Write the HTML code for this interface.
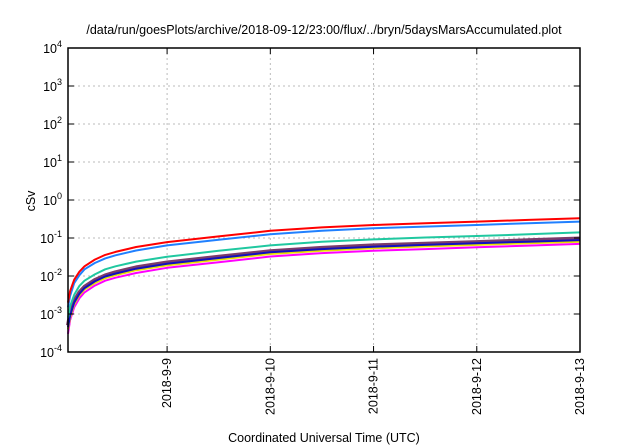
<!DOCTYPE html>
<html><head><meta charset="utf-8"><style>
html,body{margin:0;padding:0;background:#fff;}
svg{display:block;font-family:"Liberation Sans",sans-serif;}
</style></head><body>
<svg id="chart" width="640" height="448" viewBox="0 0 640 448">
<rect width="640" height="448" fill="#fff"/>
<text x="324" y="34" font-size="12.5" text-anchor="middle">/data/run/goesPlots/archive/2018-09-12/23:00/flux/../bryn/5daysMarsAccumulated.plot</text>
<g id="grid"></g>
<g id="series" fill="none"></g>
<g id="axes"></g>
<text x="324" y="442" font-size="12.5" text-anchor="middle">Coordinated Universal Time (UTC)</text>
<text transform="translate(35,201) rotate(-90)" font-size="12.5" text-anchor="middle">cSv</text>
</svg>
<script>
const times=[0.04,0.06,0.1,0.15,0.2,0.3,0.4,0.5,0.7,1,1.5,2,2.5,3,3.5,4,4.5,5];
const red=[0.002,0.004,0.008,0.013,0.018,0.027,0.036,0.043,0.058,0.078,0.11,0.155,0.19,0.22,0.245,0.27,0.3,0.33];
const blue=[0.0015,0.003,0.0065,0.0105,0.015,0.022,0.029,0.035,0.047,0.064,0.09,0.125,0.155,0.18,0.2,0.22,0.245,0.27];
const teal=[0.0008,0.0016,0.0032,0.0055,0.0075,0.011,0.015,0.018,0.024,0.032,0.046,0.064,0.08,0.092,0.103,0.113,0.125,0.14];
const brown=[0.0005,0.001,0.0022,0.0037,0.0052,0.0078,0.0104,0.0125,0.0168,0.0226,0.032,0.045,0.055,0.064,0.071,0.078,0.087,0.097];
const navy=[0.00045,0.0009,0.002,0.0034,0.0048,0.0072,0.0097,0.0116,0.0156,0.021,0.0297,0.042,0.051,0.059,0.066,0.073,0.08,0.088];
const yellow=[0.0004,0.0008,0.0018,0.0031,0.0044,0.0065,0.0088,0.0105,0.0142,0.019,0.027,0.038,0.046,0.054,0.06,0.066,0.073,0.08];
const magenta=[0.0003,0.0007,0.0015,0.0026,0.0037,0.0056,0.0075,0.009,0.012,0.0164,0.023,0.0325,0.04,0.046,0.051,0.057,0.063,0.07];
const xTickLabels=["2018-9-9","2018-9-10","2018-9-11","2018-9-12","2018-9-13"];
const xTickDays=[1,2,3,4,5];
const yTickExps=[-4,-3,-2,-1,0,1,2,3,4];

const L=68,R=580,T=48,B=352;
const X0=0.04,X1=5;
function xs(d){return L+(d-X0)/(X1-X0)*(R-L);}
function ys(v){return B-(Math.log10(v)+4)/8*(B-T);}
const NS="http://www.w3.org/2000/svg";
function mk(tag,attrs,parent){const e=document.createElementNS(NS,tag);for(const k in attrs)e.setAttribute(k,attrs[k]);parent.appendChild(e);return e;}
const grid=document.getElementById('grid'),axes=document.getElementById('axes'),ser=document.getElementById('series');

yTickExps.forEach(p=>{
  const y=ys(Math.pow(10,p));
  if(p>-4&&p<4){const g=mk('line',{x1:L,x2:R,y1:y,y2:y,stroke:'#bbb','stroke-dasharray':'2,3','stroke-width':1},grid);
  
  }
  mk('line',{x1:L,x2:L+6,y1:y,y2:y,stroke:'#000'},axes);
  mk('line',{x1:R,x2:R-6,y1:y,y2:y,stroke:'#000'},axes);
  const t=mk('text',{x:L-6,y:y+5,'text-anchor':'end','font-size':12.5},axes);
  
  
  t.textContent='10';
  const s=mk('tspan',{dy:-6,'font-size':9},t);s.textContent=String(p);
});
xTickDays.forEach((d,i)=>{
  const x=xs(d);
  if(d<5){const g=mk('line',{x1:x,x2:x,y1:T,y2:B,stroke:'#bbb','stroke-dasharray':'2,3','stroke-width':1},grid);
  
  }
  mk('line',{x1:x,x2:x,y1:B,y2:B-6,stroke:'#000'},axes);
  mk('line',{x1:x,x2:x,y1:T,y2:T+6,stroke:'#000'},axes);
  const t=mk('text',{transform:`translate(${x+4},${B+6}) rotate(-90)`,'text-anchor':'end','font-size':12.5},axes);
  
  
  t.textContent=xTickLabels[i];
});
const frame=mk('rect',{x:L,y:T,width:R-L,height:B-T,fill:'none',stroke:'#000','stroke-width':1.5},axes);



const seriesList=[[brown,'#7a3b6a','series-brown'],[magenta,'#ff00ff','series-magenta'],[yellow,'#e8e000','series-yellow'],[navy,'#1010c0','series-navy'],[teal,'#20c8a0','series-teal'],[blue,'#2080ff','series-blue'],[red,'#ff0000','series-red']];
seriesList.forEach(([vals,col,name])=>{
  const d=vals.map((v,i)=>(i?'L':'M')+xs(times[i]).toFixed(1)+','+ys(v).toFixed(1)).join(' ');
  const p=mk('path',{d:d,stroke:col,'stroke-width':name==='series-brown'?4:2,'stroke-linejoin':'round'},ser);
  
  
});
</script>
</body></html>
